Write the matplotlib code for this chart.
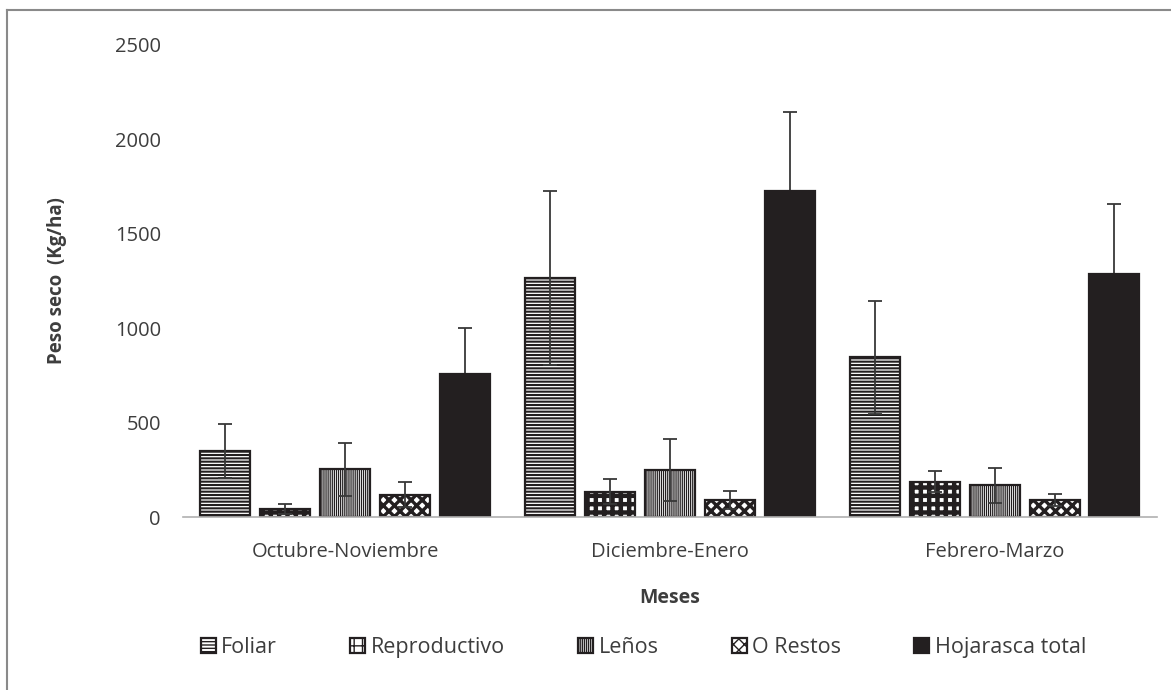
import numpy as np
import matplotlib as mpl
import matplotlib.pyplot as plt
from matplotlib.lines import Line2D

# Litterfall dry weight per fraction and sampling period
meses = ["Octubre-Noviembre", "Diciembre-Enero", "Febrero-Marzo"]
foliar = [350, 1265, 845]
foliar_err = [145, 460, 300]
reproductivo = [42, 134, 187]
reproductivo_err = [27, 66, 57]
lenos = [253, 249, 169]
lenos_err = [140, 162, 93]
restos = [118, 90, 90]
restos_err = [67, 50, 32]
total = [756, 1725, 1286]
total_err = [245, 420, 372]

plt.rcParams["font.family"] = ["Open Sans", "DejaVu Sans"]

dark = "#231f20"
txt = "#3d3d3d"
# name, values, errors, face, hatch, hatch width, errorbar zorder
series = [
    ("Foliar", foliar, foliar_err, "white", "-----", 1.5, 3),
    ("Reproductivo", reproductivo, reproductivo_err, "white", "++", 3.2, 3),
    ("Leños", lenos, lenos_err, "white", "||||||||", 0.9, 3),
    ("O Restos", restos, restos_err, "white", "xxx", 2.4, 3),
    ("Hojarasca total", total, total_err, dark, None, 1.0, 1.5),
]

fig = plt.figure(figsize=(11.71, 6.90), dpi=100)
ax = fig.add_axes([0.1563, 0.2507, 0.8317, 0.6841])

x = np.arange(len(meses))
width = 0.154
step = 0.1846
handles = []
for i, (name, vals, errs, fc, hatch, hlw, ez) in enumerate(series):
    pos = x + (i - 2) * step
    with mpl.rc_context({"hatch.linewidth": hlw, "hatch.color": dark}):
        bars = ax.bar(pos, vals, width, color=fc, edgecolor=dark,
                      hatch=hatch, linewidth=1.6, label=name, zorder=2)
    for b in bars:
        if hasattr(b, "set_hatch_linewidth"):
            b.set_hatch_linewidth(hlw)
    ax.errorbar(pos, vals, yerr=errs, fmt="none", ecolor="#383838",
                elinewidth=1.3, capsize=4.8, capthick=1.3, zorder=ez)
    handles.append(bars)

ax.set_ylim(0, 2500)
ax.set_xlim(-0.5, 2.5)
ax.set_yticks([0, 500, 1000, 1500, 2000, 2500])
ax.set_xticks(x)
ax.set_xticklabels(meses)
ax.tick_params(axis="both", length=0, labelsize=14.5, colors=txt)
ax.tick_params(axis="y", pad=16)
ax.tick_params(axis="x", pad=18)
for s in ["top", "right", "left"]:
    ax.spines[s].set_visible(False)
ax.spines["bottom"].set_color("#b0b0b0")
ax.spines["bottom"].set_linewidth(1.2)

ax.set_xlabel("Meses", fontsize=14, fontweight="bold", color=txt,
              labelpad=19)
ax.set_ylabel("Peso seco  (Kg/ha)", fontsize=13.5, fontweight="bold",
              color=txt, labelpad=34)

leg = fig.legend(handles=handles, loc="center", bbox_to_anchor=(0.5495, 0.061),
                 ncol=5, frameon=False, fontsize=15.5, handlelength=0.7,
                 handleheight=0.7, handletextpad=0.25, columnspacing=3.4)
for t in leg.get_texts():
    t.set_color(txt)

# outer frame of the chart area
fig.add_artist(Line2D([7 / 1171, 7 / 1171], [0, 1 - 10 / 690],
                      transform=fig.transFigure, color="#8a8a8a", lw=1.5))
fig.add_artist(Line2D([7 / 1171, 1], [1 - 10 / 690, 1 - 10 / 690],
                      transform=fig.transFigure, color="#8a8a8a", lw=1.5))

fig.savefig("out.png", dpi=100)
